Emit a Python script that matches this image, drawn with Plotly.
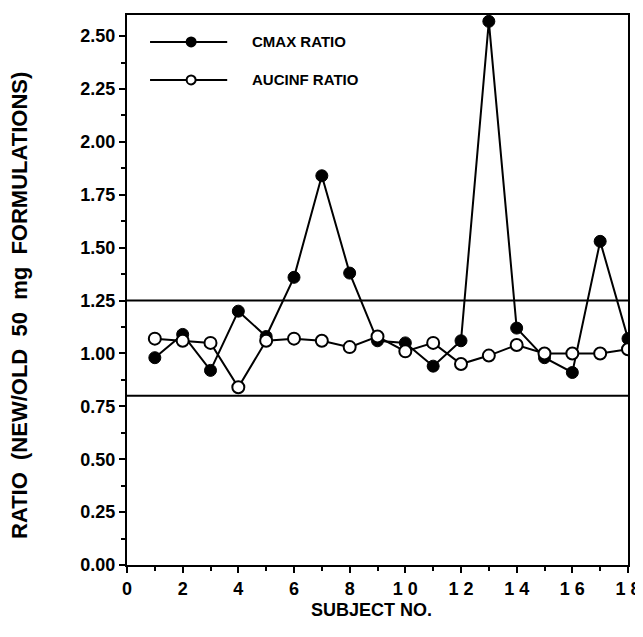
import plotly.graph_objects as go

subjects = list(range(1, 19))
cmax_ratio = [0.98, 1.09, 0.92, 1.20, 1.08, 1.36, 1.84, 1.38, 1.06, 1.05, 0.94, 1.06, 2.57, 1.12, 0.98, 0.91, 1.53, 1.07]
aucinf_ratio = [1.07, 1.06, 1.05, 0.84, 1.06, 1.07, 1.06, 1.03, 1.08, 1.01, 1.05, 0.95, 0.99, 1.04, 1.00, 1.00, 1.00, 1.02]
limits = [0.80, 1.25]
series_names = ["CMAX RATIO", "AUCINF RATIO"]
x_tick_vals = [0, 2, 4, 6, 8, 10, 12, 14, 16, 18]
x_tick_text = ["0", "2", "4", "6", "8", "1\u00a00", "1\u00a02", "1\u00a04", "1\u00a06", "1\u00a08"]
y_tick_vals = [0.0, 0.25, 0.5, 0.75, 1.0, 1.25, 1.5, 1.75, 2.0, 2.25, 2.5]

FONT = "Liberation Sans, Arial, sans-serif"
NB = "\u00a0"

fig = go.Figure()
fig.add_trace(go.Scatter(
    x=subjects, y=cmax_ratio, mode="lines+markers", name=series_names[0],
    line=dict(color="black", width=2),
    marker=dict(symbol="circle", size=12, color="black", line=dict(color="black", width=1)),
    showlegend=False,
))
fig.add_trace(go.Scatter(
    x=subjects, y=aucinf_ratio, mode="lines+markers", name=series_names[1],
    line=dict(color="black", width=2),
    marker=dict(symbol="circle", size=12, color="white", line=dict(color="black", width=2)),
    showlegend=False,
))

for lim in limits:
    fig.add_shape(type="line", xref="x", yref="y", x0=0, x1=18, y0=lim, y1=lim,
                  line=dict(color="black", width=2), layer="below")

# manual legend (paper coordinates)
leg_rows = [0.951, 0.882]
fills = ["black", "white"]
for name, yy, fill in zip(series_names, leg_rows, fills):
    fig.add_shape(type="line", xref="paper", yref="paper", x0=0.046, x1=0.200, y0=yy, y1=yy,
                  line=dict(color="black", width=2))
    fig.add_shape(type="circle", xref="paper", yref="paper",
                  xsizemode="pixel", ysizemode="pixel", xanchor=0.128, yanchor=yy,
                  x0=-4.5, x1=4.5, y0=-4.5, y1=4.5,
                  fillcolor=fill, line=dict(color="black", width=2))
    fig.add_annotation(xref="paper", yref="paper", x=0.245, y=yy, xanchor="left", yanchor="middle",
                       text="<b>%s</b>" % name, showarrow=False, font=dict(size=15, family=FONT))

fig.add_annotation(xref="paper", yref="paper", x=0.489, y=-0.082, xanchor="center", yanchor="middle",
                   text="<b>SUBJECT NO.</b>", showarrow=False, font=dict(size=18, family=FONT))
ytitle = "RATIO" + NB*2 + "(NEW/OLD" + NB*2 + "50" + NB*2 + "mg" + NB*2 + "FORMULATIONS)"
fig.add_annotation(xref="paper", yref="paper", x=-0.2156, y=0.4727, xanchor="center", yanchor="middle",
                   text="<b>%s</b>" % ytitle, textangle=-90, showarrow=False, font=dict(size=22, family=FONT))

# page has an 8px body margin, so the figure is drawn 8px smaller and margins shifted
fig.update_layout(
    width=635, height=629,
    margin=dict(l=119, r=15, t=7, b=72, autoexpand=False),
    paper_bgcolor="white", plot_bgcolor="white",
    font=dict(family=FONT, color="black", size=14),
    showlegend=False,
)
fig.update_xaxes(
    range=[0, 18], tickvals=x_tick_vals, ticktext=["<b>%s</b>" % t for t in x_tick_text],
    showline=True, linecolor="black", linewidth=2, mirror=True,
    ticks="outside", ticklen=6, tickwidth=2, tickcolor="black",
    minor=dict(dtick=1, ticks="outside", ticklen=4, tickwidth=1.5, tickcolor="black"),
    showgrid=False, zeroline=False, automargin=False,
    tickfont=dict(size=18, family=FONT),
)
fig.update_yaxes(
    range=[0, 2.6], tickvals=y_tick_vals, ticktext=["<b>%.2f</b>" % v for v in y_tick_vals],
    showline=True, linecolor="black", linewidth=2, mirror=True,
    ticks="outside", ticklen=6, tickwidth=2, tickcolor="black",
    minor=dict(dtick=0.125, ticks="outside", ticklen=4, tickwidth=1.5, tickcolor="black"),
    showgrid=False, zeroline=False, automargin=False,
    tickfont=dict(size=18, family=FONT),
)

fig.write_html("out.html")
